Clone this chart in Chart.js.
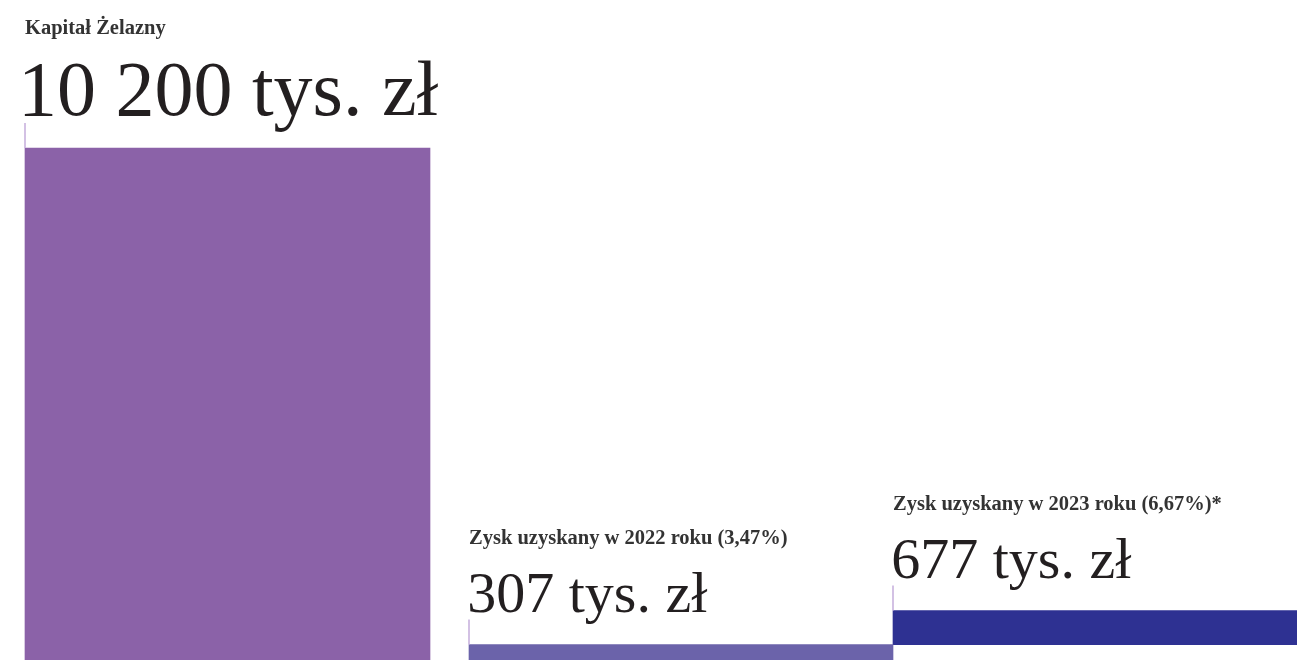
<!DOCTYPE html>
<html lang="pl">
<head>
<meta charset="utf-8">
<title>Kapitał Żelazny</title>
<script src="https://cdn.jsdelivr.net/npm/chart.js@4/dist/chart.umd.min.js"></script>
<style>
  html, body { margin: 0; padding: 0; background: #fff; }
  .wrap { position: relative; width: 1297px; height: 660px; }
</style>
</head>
<body>
<div class="wrap"><canvas id="kapChart"></canvas></div>
<script>
/* Kapitał Żelazny / zyski */
const slots = ['kapitał', 'zyski'];
const barLabels = ['Kapitał Żelazny', 'Zysk uzyskany w 2022 roku (3,47%)', 'Zysk uzyskany w 2023 roku (6,67%)*'];
const barValues = [10200, 307, 677];
const barBases = [0, 0, 307];
const barSlot = [0, 1, 1];
const unit = 'tys. zł';

// wygląd słupków (nie dane)
const barStyle = [
  { color: '#8b62a8', thickness: 405, big: 78 },
  { color: '#6b63aa', thickness: 424, big: 58 },
  { color: '#2e3192', thickness: 404, big: 58 },
];

function fmt(v) {
  return String(v).replace(/\B(?=(\d{3})+(?!\d))/g, ' ') + ' ' + unit;
}

const labelPlugin = {
  id: 'barLabels',
  afterDatasetsDraw(chart) {
    const ctx = chart.ctx;
    ctx.save();
    barLabels.forEach((lab, i) => {
      const el = chart.getDatasetMeta(i).data[barSlot[i]];
      if (!el) return;
      const left = el.x - el.width / 2;
      const top = Math.min(el.y, el.base);
      const st = barStyle[i];

      // cienka kreska nad słupkiem
      ctx.strokeStyle = '#c8b2de';
      ctx.lineWidth = 1.6;
      ctx.beginPath();
      ctx.moveTo(left, top - 25);
      ctx.lineTo(left, top);
      ctx.stroke();

      // duża wartość
      const big = fmt(barValues[i]);
      ctx.font = `${st.big}px "Liberation Serif", serif`;
      ctx.fillStyle = '#231f20';
      ctx.textBaseline = 'alphabetic';
      ctx.textAlign = 'left';
      const m = ctx.measureText(big);
      const bigBase = top - 33;
      ctx.fillText(big, left - st.big * 0.065 + 4 + m.actualBoundingBoxLeft, bigBase);

      // podpis
      ctx.font = 'bold 20.5px "Liberation Serif", serif';
      ctx.fillStyle = '#333';
      const m2 = ctx.measureText(lab);
      ctx.fillText(lab, left + m2.actualBoundingBoxLeft, bigBase - st.big * 0.68 - 28);
    });
    ctx.restore();
  },
};

const datasets = barLabels.map((lab, i) => ({
  label: lab,
  data: slots.map((_, s) => (s === barSlot[i] ? [barBases[i], barBases[i] + barValues[i]] : null)),
  backgroundColor: barStyle[i].color,
  barThickness: barStyle[i].thickness,
  skipNull: true,
  clip: false,
}));

new Chart(document.getElementById('kapChart'), {
  type: 'bar',
  data: { labels: slots, datasets },
  options: {
    responsive: true,
    maintainAspectRatio: false,
    animation: false,
    layout: { padding: { left: 227.5, right: 404, top: 148, bottom: 0 } },
    plugins: { legend: { display: false }, tooltip: { enabled: false } },
    scales: {
      x: { type: 'category', offset: false, display: false },
      y: { min: 0, max: 10200, display: false },
    },
  },
  plugins: [labelPlugin],
});
</script>
</body>
</html>
